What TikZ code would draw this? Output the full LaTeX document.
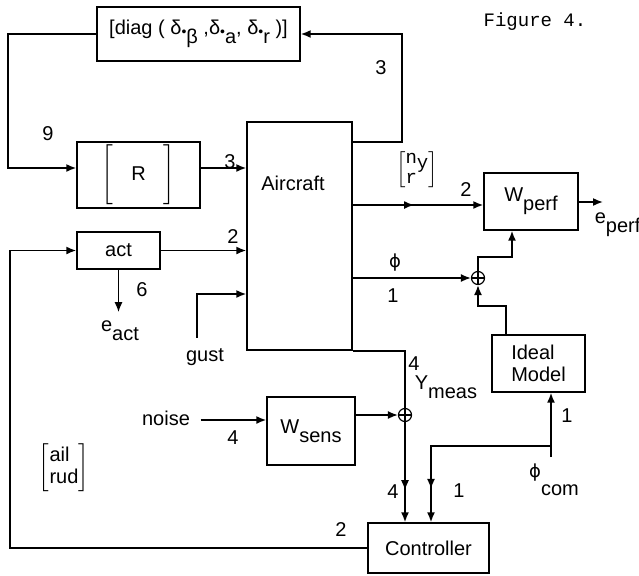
\documentclass[tikz,border=0pt]{standalone}
\usepackage{fontspec}
\setmainfont{Liberation Sans}
\setmonofont{Liberation Mono}
\newfontfamily\symfont{DejaVu Sans}
\usetikzlibrary{arrows.meta,calc,positioning,decorations.markings}
\newcommand{\dn}[1]{\raisebox{-4.5pt}{#1}}
\newcommand{\phis}{{\symfont\fontsize{9}{10}\selectfont ϕ}}

\begin{document}
\begin{tikzpicture}[x=0.5pt,y=-0.5pt,>={Latex[length=5pt,width=4pt]},line width=0.8pt,
every node/.style={font=\fontsize{10}{11}\selectfont,inner sep=0pt},
blk/.style={draw,line width=0.7pt,align=center},
sumpt/.style={draw,circle,minimum size=6.5pt,line width=0.6pt},
midarr/.style={postaction={decorate},decoration={markings,mark=at position #1 with {\arrow{>}}}}]
\useasboundingbox (0,0) rectangle (639,575);
% blocks
\node[blk,minimum width=101.5pt,minimum height=27pt] (diag) at (198.5,34) {[diag ( δ\raisebox{-1pt}{\scriptsize•}\dn{β} ,δ\raisebox{-1pt}{\scriptsize•}\dn{a}, δ\raisebox{-1pt}{\scriptsize•}\dn{r} )]};
\node[blk,minimum width=61.5pt,minimum height=33pt] (rmat) at (138.5,175) {$\left[\vrule height 12pt depth 12pt width 0pt\hspace{9pt}\mbox{R}\hspace{9pt}\right]$};
\node[blk,minimum width=52.5pt,minimum height=114pt] (air) at (299.5,236) {};
\node (airtxt) at (293,183) {Aircraft};
\node[blk,minimum width=41.5pt,minimum height=18.5pt] (act) at (118.5,250.5) {act};
\node[blk,minimum width=47pt,minimum height=28.5pt] (wperf) at (531,201.5) {W\dn{perf}};
\node[blk,align=left,minimum width=46.5pt,minimum height=28.5pt] (ideal) at (538.5,363.5) {Ideal\\Model};
\node[blk,minimum width=44pt,minimum height=34pt] (wsens) at (311,431) {W\dn{sens}};
\node[blk,minimum width=60.5pt,minimum height=25pt] (ctrl) at (428.5,548) {Controller};
\node[sumpt] (s1) at (478,278) {};
\node[sumpt] (s2) at (405,415) {};
\draw[line width=0.6pt] (s1.north)--(s1.south) (s1.west)--(s1.east)
  (s2.north)--(s2.south) (s2.west)--(s2.east);
% signals
\node (eact) at (120,331) {e\dn{act}};
\node (gust) at (205,357) {gust};
\node (noise) at (166,418) {noise};
\node[anchor=west] (eperf) at (594,225) {e\dn{perf}};
\node[anchor=west] (ymeas) at (414,387) {Y\dn{meas}};
\node (phicom) at (554,480) {\phis\raisebox{-9pt}{com}};
\node (ailrud) at (64,468) {$\left[\begin{tabular}{@{}l@{}}ail\\rud\end{tabular}\right]$};
\node[font=\fontsize{9.5}{9.5}\selectfont\ttfamily] (nyr) at (417,170) {$\left[\begin{tabular}{@{}l@{}}n\raisebox{-2.5pt}{y}\\[-1pt]r\end{tabular}\right]$};
\node[font=\fontsize{9.5}{10}\selectfont\ttfamily] (fig) at (535,22) {Figure 4.};
% dimensions
\node (l3a) at (381,68) {3};
\node (l9) at (48,134) {9};
\node (l3b) at (230,162) {3};
\node (l2a) at (233,237) {2};
\node (l6) at (142,290) {6};
\node (l2b) at (466,190) {2};
\node (lphi) at (395,263) {\phis};
\node (l1a) at (393,296) {1};
\node (l4a) at (414,364) {4};
\node (l4b) at (233,438) {4};
\node (l4c) at (393,492) {4};
\node (l1b) at (459,491) {1};
\node (l1c) at (567,416) {1};
\node (l2c) at (341,530) {2};
% connectors
\coordinate (fbr) at (402,142);
\draw[->] (air.east |- fbr) -- (fbr) |- (diag.east);
\coordinate (fbl) at (8,100);
\draw[->] (diag.west) -| (fbl) |- (rmat.west |- 0,168);
\draw[->] (rmat.east |- 0,168) -- (air.west |- 0,168);
\draw[->] (act.east) -- (act.east -| air.west);
\coordinate (cl) at (10,400);
\draw[->] (ctrl.west) -| (cl) |- (act.west);
\draw[->,shorten >=4pt] (act.south) -- (act.south |- eact.north);
\draw[->] ($(gust.north -| 197,0)+(0,-10)$) |- (air.west |- 0,294);
\draw[->,midarr=0.47] (air.east |- 0,205) -- (wperf.west |- 0,205);
\coordinate (pout) at (603,202);
\draw[->] (wperf.east |- pout) -- (pout);
\draw[->] (air.east |- s1) -- (s1.west);
\coordinate (c1) at (512,257);
\draw[->] (s1.north) |- (c1) -- (c1 |- wperf.south);
\coordinate (c2) at (506,306);
\draw[->] (c2 |- ideal.north) -- (c2) -| (s1.south);
\draw (air.south east) -| (s2.north);
\draw[->] (wsens.east |- s2) -- (s2.west);
\draw[->] ($(noise.east)+(10,2)$) coordinate (nz) -- (nz -| wsens.west);
\draw[->,midarr=0.68] (s2.south) -- (s2.south |- ctrl.north);
\coordinate (pcm) at (551,457);
\draw[->] (pcm) -- (pcm |- ideal.south);
\coordinate (br) at (551,446);
\draw[->,midarr=0.83] (br) -| (431,0 |- ctrl.north);
\end{tikzpicture}
\end{document}
